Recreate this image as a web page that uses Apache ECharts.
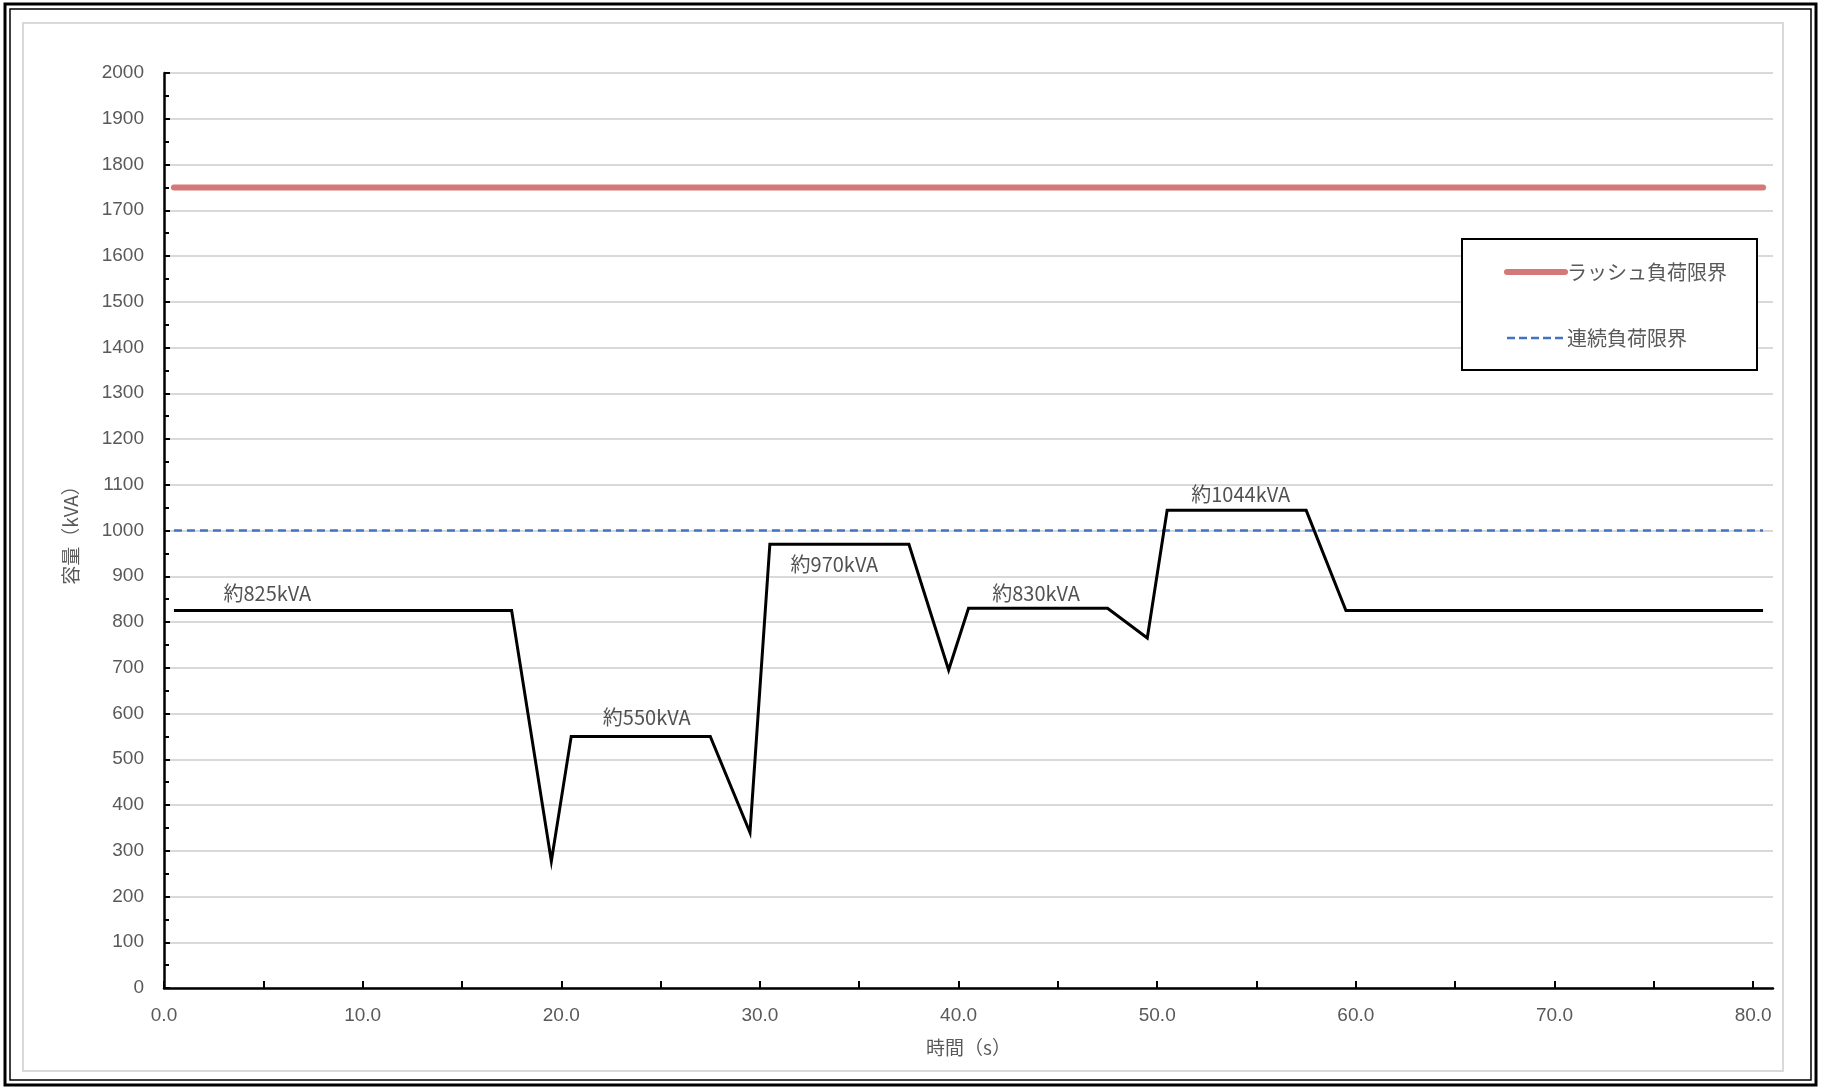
<!DOCTYPE html>
<html>
<head>
<meta charset="utf-8">
<script src="https://cdn.jsdelivr.net/npm/echarts@6/dist/echarts.min.js"></script>
<style>
html,body{margin:0;padding:0;background:#fff;}
#chart{width:1821px;height:1089px;}
</style>
</head>
<body>
<div id="chart"></div>
<script>
// ---- data ----
const loadTime = [0.5, 17.5, 19.5, 20.5, 27.5, 29.5, 30.5, 37.5, 39.5, 40.5, 47.5, 49.5, 50.5, 57.5, 59.5, 80.5];
const loadKVA  = [825, 825, 277, 550, 550, 340, 970, 970, 695, 830, 830, 765, 1044, 1044, 825, 825];
const rushTime = [0.5, 80.5];
const rushKVA  = [1750, 1750];
const contTime = [0.5, 80.5];
const contKVA  = [1000, 1000];
const annText = ['約825kVA', '約550kVA', '約970kVA', '約830kVA', '約1044kVA'];
const annX    = [5.2, 24.3, 33.75, 43.9, 54.2];
const annY    = [863, 592, 926, 863, 1079];
const xLabelValues = [0, 10, 20, 30, 40, 50, 60, 70, 80];
const xTickValues  = [0, 5, 10, 15, 20, 25, 30, 35, 40, 45, 50, 55, 60, 65, 70, 75, 80];
const seriesNames = ['ラッシュ負荷限界', '連続負荷限界'];
const xName = '時間（s）';
const yName = '容量（kVA）';

const zip = (a, b) => a.map((v, i) => [v, b[i]]);
const FONT = '"Noto Sans CJK JP", "Noto Sans", sans-serif';
const NUMFONT = '"Liberation Sans", "Noto Sans", sans-serif';
const RED = '#d47878', BLUE = '#4472c4';

const chart = echarts.init(document.getElementById('chart'), null, {renderer: 'canvas'});
chart.setOption({
  backgroundColor: '#fff',
  animation: false,
  graphic: [
    {type: 'rect', shape: {x: 5, y: 4, width: 1811, height: 1081}, style: {fill: 'none', stroke: '#000', lineWidth: 3}},
    {type: 'rect', shape: {x: 10, y: 9, width: 1801, height: 1071}, style: {fill: 'none', stroke: '#000', lineWidth: 1.5}},
    {type: 'rect', shape: {x: 23, y: 23, width: 1760, height: 1048}, style: {fill: 'none', stroke: '#d9d9d9', lineWidth: 2}}
  ],
  grid: {left: 164, right: 1821 - 1773, top: 73, bottom: 1089 - 988, containLabel: false},
  legend: {
    orient: 'vertical',
    left: 1462, top: 239,
    padding: [23, 30, 22, 42],
    itemGap: 46,
    itemWidth: 58, itemHeight: 14,
    borderColor: '#000', borderWidth: 2, backgroundColor: '#fff',
    textStyle: {fontFamily: FONT, fontSize: 20, color: '#595959', padding: [0, 0, 0, -3]},
    itemStyle: {opacity: 0},
    data: [
      {name: seriesNames[0], itemStyle: {opacity: 0}, lineStyle: {color: RED, width: 6, cap: 'round'}},
      {name: seriesNames[1], itemStyle: {opacity: 0}, lineStyle: {color: BLUE, width: 2.5, type: [8, 4]}}
    ]
  },
  xAxis: {
    type: 'value', min: 0, max: 81,
    name: xName, nameLocation: 'middle', nameGap: 50,
    nameTextStyle: {fontFamily: FONT, fontSize: 19, color: '#595959'},
    axisLine: {show: true, lineStyle: {color: '#000', width: 2.5}},
    axisTick: {show: true, inside: true, length: 7, lineStyle: {color: '#000', width: 2}, customValues: xTickValues},
    axisLabel: {show: true, margin: 18, fontFamily: NUMFONT, fontSize: 19, color: '#595959',
      customValues: xLabelValues, formatter: v => Number(v).toFixed(1)},
    splitLine: {show: false}
  },
  yAxis: {
    type: 'value', min: 0, max: 2000, interval: 100,
    name: yName, nameLocation: 'middle', nameGap: 84, nameRotate: 90,
    nameTextStyle: {fontFamily: FONT, fontSize: 19, color: '#595959'},
    axisLine: {show: true, lineStyle: {color: '#000', width: 2.5}},
    axisTick: {show: true, inside: true, length: 6, lineStyle: {color: '#000', width: 2}},
    minorTick: {show: true, splitNumber: 2, length: 5, lineStyle: {color: '#000', width: 2}},
    axisLabel: {margin: 20, fontFamily: NUMFONT, fontSize: 19, color: '#595959', formatter: v => String(v)},
    splitLine: {show: true, lineStyle: {color: '#d9d9d9', width: 2}}
  },
  series: [
    {
      name: seriesNames[0], type: 'line', data: zip(rushTime, rushKVA), symbol: 'none',
      lineStyle: {color: RED, width: 6, cap: 'round'}, itemStyle: {color: RED}, z: 3
    },
    {
      name: seriesNames[1], type: 'line', data: zip(contTime, contKVA), symbol: 'none',
      lineStyle: {color: BLUE, width: 2.5, type: [8, 5]}, itemStyle: {color: BLUE}, z: 3
    },
    {
      name: 'load', type: 'line', data: zip(loadTime, loadKVA), symbol: 'none',
      lineStyle: {color: '#000', width: 3, join: 'miter'}, itemStyle: {color: '#000'}, z: 4
    },
    {
      name: 'ann', type: 'scatter', symbolSize: 0, itemStyle: {color: 'rgba(0,0,0,0)'},
      data: annX.map((x, i) => [x, annY[i], annText[i]]),
      label: {show: true, position: 'inside', formatter: p => p.data[2],
        fontFamily: FONT, fontSize: 20, color: '#262626'},
      z: 5, silent: true
    }
  ]
});
</script>
</body>
</html>
